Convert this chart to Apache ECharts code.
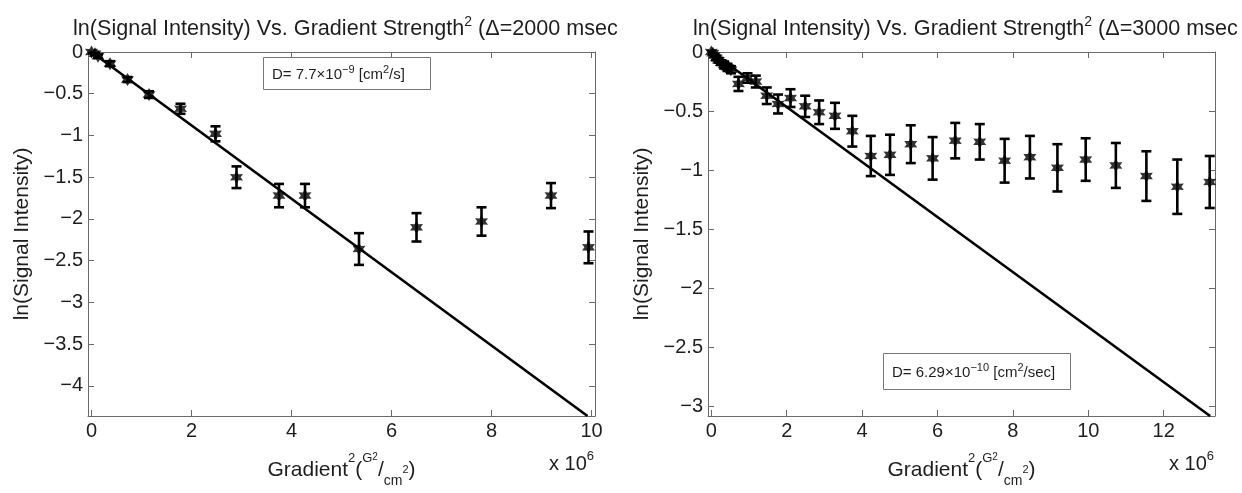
<!DOCTYPE html>
<html><head><meta charset="utf-8">
<script src="https://cdn.jsdelivr.net/npm/echarts@6/dist/echarts.min.js"></script>
<style>html,body{margin:0;padding:0;background:#fff}#c{width:1242px;height:493px}</style>
</head><body><div id="c"></div>
<script>
// ---- data (x in units of 10^6 G^2/cm^2) ----
const leftX   = [0, 0.07, 0.13, 0.37, 0.72, 1.15, 1.78, 2.48, 2.9, 3.75, 4.27, 5.35, 6.5, 7.8, 9.19, 9.94];
const leftY   = [0, -0.02, -0.05, -0.14, -0.33, -0.51, -0.68, -0.98, -1.5, -1.72, -1.72, -2.36, -2.10, -2.03, -1.72, -2.34];
const leftErr = [0.01, 0.01, 0.02, 0.03, 0.03, 0.04, 0.06, 0.09, 0.13, 0.14, 0.14, 0.19, 0.17, 0.17, 0.15, 0.19];
const leftFitX = [0, 9.92];
const leftFitY = [0, -4.36];

const rightX   = [0, 0.04, 0.08, 0.13, 0.19, 0.26, 0.34, 0.43, 0.52, 0.72, 0.96, 1.18, 1.47, 1.77, 2.1, 2.49, 2.86, 3.28, 3.74, 4.23, 4.74, 5.29, 5.87, 6.47, 7.12, 7.78, 8.45, 9.18, 9.93, 10.73, 11.54, 12.36, 13.22];
const rightY   = [0, -0.01, -0.03, -0.05, -0.07, -0.09, -0.11, -0.13, -0.15, -0.27, -0.22, -0.25, -0.37, -0.44, -0.39, -0.46, -0.51, -0.54, -0.67, -0.88, -0.87, -0.78, -0.90, -0.75, -0.76, -0.92, -0.89, -0.98, -0.91, -0.96, -1.05, -1.14, -1.10];
const rightErr = [0.01, 0.01, 0.01, 0.02, 0.02, 0.02, 0.03, 0.03, 0.03, 0.06, 0.04, 0.05, 0.07, 0.08, 0.075, 0.09, 0.10, 0.11, 0.13, 0.17, 0.17, 0.16, 0.18, 0.15, 0.15, 0.185, 0.18, 0.20, 0.18, 0.19, 0.21, 0.23, 0.22];
const rightFitX = [0, 13.23];
const rightFitY = [0, -3.08];

const xTicksLeft  = [0, 2, 4, 6, 8, 10];
const yTicksLeft  = [0, -0.5, -1, -1.5, -2, -2.5, -3, -3.5, -4];
const xTicksRight = [0, 2, 4, 6, 8, 10, 12];
const yTicksRight = [0, -0.5, -1, -1.5, -2, -2.5, -3];

// ---- styling helpers ----
const FONT = 'Liberation Sans, Arial, sans-serif';
const AX = '#6a6a6a';
const TXT = '#1e1e1e';
function fmt(v){ return (v < 0 ? '\u2212' : '') + Math.abs(v); }
function hexagram(){
  const p = [];
  for (let i = 0; i < 12; i++) {
    const a = Math.PI / 2 + i * Math.PI / 6;
    const r = i % 2 === 0 ? 1 : 0.55;
    p.push((Math.cos(a) * r).toFixed(3) + ' ' + (-Math.sin(a) * r).toFixed(3));
  }
  return 'path://M' + p.join(' L') + ' Z';
}
const STAR = hexagram();
function ts(size, lh, va){ return {fontSize: size, fontFamily: FONT, fontWeight: 'normal', color: TXT, lineHeight: lh, verticalAlign: va}; }

function axis(gridIndex, pos, min, max, ticks, showLabel, extra){
  return Object.assign({
    type: 'value', gridIndex, position: pos, min, max,
    axisLine: {show: true, onZero: false, lineStyle: {color: AX, width: 1}},
    axisTick: {show: true, inside: true, length: 6, customValues: ticks, lineStyle: {color: AX, width: 1}},
    axisLabel: {show: showLabel, customValues: ticks, formatter: fmt, color: TXT, fontSize: 20, fontFamily: FONT, margin: 5},
    splitLine: {show: false}
  }, extra || {});
}

const xNameRich = {
  a: ts(21, 36, 'middle'),
  b: ts(13, 20, 'top'),
  c: ts(10, 12, 'top'),
  d: ts(14, 18, 'bottom'),
  e: ts(11, 30, 'middle')
};
const xName = '{a|Gradient}{b|2}{a|(}{b|G}{c|2}{a|/}{d|cm}{e|2}{a|)}';
const yName = 'ln(Signal Intensity)';

function errRender(params, api){
  const x = api.value(0), y = api.value(1), e = api.value(2);
  const t = api.coord([x, y + e]), b = api.coord([x, y - e]);
  const w = 5;
  const st = {stroke: '#000', lineWidth: 2.6};
  return {type: 'group', children: [
    {type: 'line', shape: {x1: t[0], y1: t[1], x2: b[0], y2: b[1]}, style: st},
    {type: 'line', shape: {x1: t[0] - w, y1: t[1], x2: t[0] + w, y2: t[1]}, style: st},
    {type: 'line', shape: {x1: b[0] - w, y1: b[1], x2: b[0] + w, y2: b[1]}, style: st}
  ]};
}

const titleRich = {t: ts(21.6, 28, 'middle'), s: ts(14, 16, 'top')};
const boxRich = {t: ts(15, 22, 'middle'), s: ts(11, 14, 'top')};
const expRich = {t: ts(20, 28, 'middle'), s: ts(13, 14, 'top')};
const plainTitle = {fontWeight: 'normal', fontFamily: FONT, color: TXT};

const option = {
  animation: false,
  backgroundColor: '#fff',
  title: [
    {text: '{t|ln(Signal Intensity) Vs. Gradient Strength}{s|2}{t| (\u0394=2000 msec}', left: 73, top: 15, padding: 0, textStyle: Object.assign({rich: titleRich}, plainTitle)},
    {text: '{t|ln(Signal Intensity) Vs. Gradient Strength}{s|2}{t| (\u0394=3000 msec}', left: 693, top: 15, padding: 0, textStyle: Object.assign({rich: titleRich}, plainTitle)},
    {text: '{t|D= 7.7\u00d710}{s|\u22129}{t| [cm}{s|2}{t|/s]}', left: 263, top: 57, padding: [7, 26, 7, 9], borderColor: '#777', borderWidth: 1, backgroundColor: '#fff', textStyle: Object.assign({rich: boxRich}, plainTitle)},
    {text: '{t|D= 6.29\u00d710}{s|\u221210}{t| [cm}{s|2}{t|/sec]}', left: 883, top: 353, padding: [9, 16, 9, 9], borderColor: '#777', borderWidth: 1, backgroundColor: '#fff', textStyle: Object.assign({rich: boxRich}, plainTitle)},
    {text: '{t|x 10}{s|6}', left: 549, top: 450, padding: 0, textStyle: Object.assign({rich: expRich}, plainTitle)},
    {text: '{t|x 10}{s|6}', left: 1169, top: 450, padding: 0, textStyle: Object.assign({rich: expRich}, plainTitle)}
  ],
  grid: [
    {left: 88, top: 52, width: 507, height: 367},
    {left: 708, top: 52, width: 507, height: 365}
  ],
  xAxis: [
    axis(0, 'bottom', -0.07, 10.07, xTicksLeft, true, {name: xName, nameLocation: 'middle', nameGap: 36, nameTextStyle: {rich: xNameRich}}),
    axis(0, 'top', -0.07, 10.07, xTicksLeft, false),
    axis(1, 'bottom', -0.088, 13.36, xTicksRight, true, {name: xName, nameLocation: 'middle', nameGap: 36, nameTextStyle: {rich: xNameRich}}),
    axis(1, 'top', -0.088, 13.36, xTicksRight, false)
  ],
  yAxis: [
    axis(0, 'left', -4.36, 0, yTicksLeft, true, {name: yName, nameLocation: 'middle', nameGap: 55, nameRotate: 90, nameTextStyle: {fontSize: 21, fontFamily: FONT, color: TXT}}),
    axis(0, 'right', -4.36, 0, yTicksLeft, false),
    axis(1, 'left', -3.08, 0, yTicksRight, true, {name: yName, nameLocation: 'middle', nameGap: 55, nameRotate: 90, nameTextStyle: {fontSize: 21, fontFamily: FONT, color: TXT}}),
    axis(1, 'right', -3.08, 0, yTicksRight, false)
  ],
  series: [
    {type: 'line', xAxisIndex: 0, yAxisIndex: 0, data: leftFitX.map((x, i) => [x, leftFitY[i]]), showSymbol: false, lineStyle: {color: '#000', width: 2.6}, z: 2},
    {type: 'custom', xAxisIndex: 0, yAxisIndex: 0, renderItem: errRender, clip: true, data: leftX.map((x, i) => [x, leftY[i], leftErr[i]]), z: 3},
    {type: 'scatter', xAxisIndex: 0, yAxisIndex: 0, symbol: STAR, symbolSize: 13, itemStyle: {color: '#000'}, data: leftX.map((x, i) => [x, leftY[i]]), z: 4},
    {type: 'line', xAxisIndex: 2, yAxisIndex: 2, data: rightFitX.map((x, i) => [x, rightFitY[i]]), showSymbol: false, lineStyle: {color: '#000', width: 2.6}, z: 2},
    {type: 'custom', xAxisIndex: 2, yAxisIndex: 2, renderItem: errRender, clip: true, data: rightX.map((x, i) => [x, rightY[i], rightErr[i]]), z: 3},
    {type: 'scatter', xAxisIndex: 2, yAxisIndex: 2, symbol: STAR, symbolSize: 13, itemStyle: {color: '#000'}, data: rightX.map((x, i) => [x, rightY[i]]), z: 4}
  ]
};
echarts.init(document.getElementById('c'), null, {renderer: 'canvas'}).setOption(option);
</script>
</body></html>
